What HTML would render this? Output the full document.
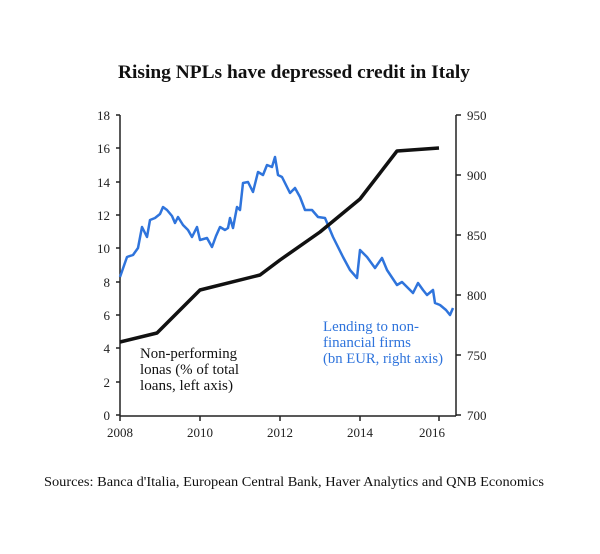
<!DOCTYPE html><html><head><style>body{margin:0;background:#fff}</style></head><body>
<svg width="600" height="549" xmlns="http://www.w3.org/2000/svg" font-family="Liberation Serif, serif">
<rect width="600" height="549" fill="#fff"/>
<text x="118" y="78" font-size="18.5" font-weight="bold" fill="#111" textLength="352" lengthAdjust="spacingAndGlyphs">Rising NPLs have depressed credit in Italy</text>
<g stroke="#222" stroke-width="1.5" fill="none">
<line x1="120" y1="115" x2="120" y2="416"/><line x1="120" y1="416" x2="456" y2="416"/>
<line x1="456" y1="115" x2="456" y2="416"/>
<path d="M116 115h4M116 148h4M116 182h4M116 215h4M116 248h4M116 282h4M116 315h4M116 348h4M116 382h4M116 415h4"/>
<path d="M456 115h5M456 175h5M456 235h5M456 295h5M456 355h5M456 415h5"/>
<path d="M120 416v5M200 416v5M280 416v5M360 416v5M439 416v5"/>
</g>
<g font-size="13" fill="#222" text-anchor="end">
<text x="110" y="120">18</text><text x="110" y="153">16</text><text x="110" y="187">14</text><text x="110" y="220">12</text><text x="110" y="253">10</text><text x="110" y="287">8</text><text x="110" y="320">6</text><text x="110" y="353">4</text><text x="110" y="387">2</text><text x="110" y="420">0</text>
</g>
<g font-size="13" fill="#222">
<text x="467" y="120">950</text><text x="467" y="180">900</text><text x="467" y="240">850</text><text x="467" y="300">800</text><text x="467" y="360">750</text><text x="467" y="420">700</text>
</g>
<g font-size="13" fill="#222" text-anchor="middle">
<text x="120" y="437">2008</text><text x="200" y="437">2010</text><text x="280" y="437">2012</text><text x="360" y="437">2014</text><text x="432" y="437">2016</text>
</g>
<polyline fill="none" stroke="#2f74dc" stroke-width="2.5" stroke-linejoin="round" points="120,277 127,257 133,255 138,248 142,227 147,237 150,220 155,218 160,214 163,207 167,210 172,216 175,223 178,217 183,225 188,230 192,237 197,227 200,240 207,238 212,247 216,236 220,227 225,230 228,228 230,218 233,228 237,207 240,210 243,183 248,182 253,192 258,172 263,175 267,165 272,167 275,157 278,175 282,177 285,183 290,193 295,188 300,197 305,210 312,210 318,217 325,218 333,237 343,257 350,270 357,278 360,250 367,257 375,268 382,258 387,270 397,285 402,282 407,287 413,293 418,283 423,290 427,295 433,290 435,303 440,305 446,310 450,315 453,308"/>
<polyline fill="none" stroke="#111" stroke-width="3.5" stroke-linejoin="round" points="120,342 157,333 200,290 260,275 280,260 320,232 360,199 397,151 439,148"/>
<g font-size="14.5" fill="#111">
<text x="140" y="358" textLength="97" lengthAdjust="spacingAndGlyphs">Non-performing</text><text x="140" y="374" textLength="99" lengthAdjust="spacingAndGlyphs">lonas (% of total</text><text x="140" y="390" textLength="93" lengthAdjust="spacingAndGlyphs">loans, left axis)</text>
</g>
<g font-size="14.5" fill="#2f74dc">
<text x="323" y="331" textLength="96" lengthAdjust="spacingAndGlyphs">Lending to non-</text><text x="323" y="347" textLength="88" lengthAdjust="spacingAndGlyphs">financial firms</text><text x="323" y="363" textLength="120" lengthAdjust="spacingAndGlyphs">(bn EUR, right axis)</text>
</g>
<text x="44" y="486" font-size="14" fill="#111" textLength="500" lengthAdjust="spacingAndGlyphs">Sources: Banca d'Italia, European Central Bank, Haver Analytics and QNB Economics</text>
</svg>
</body></html>
